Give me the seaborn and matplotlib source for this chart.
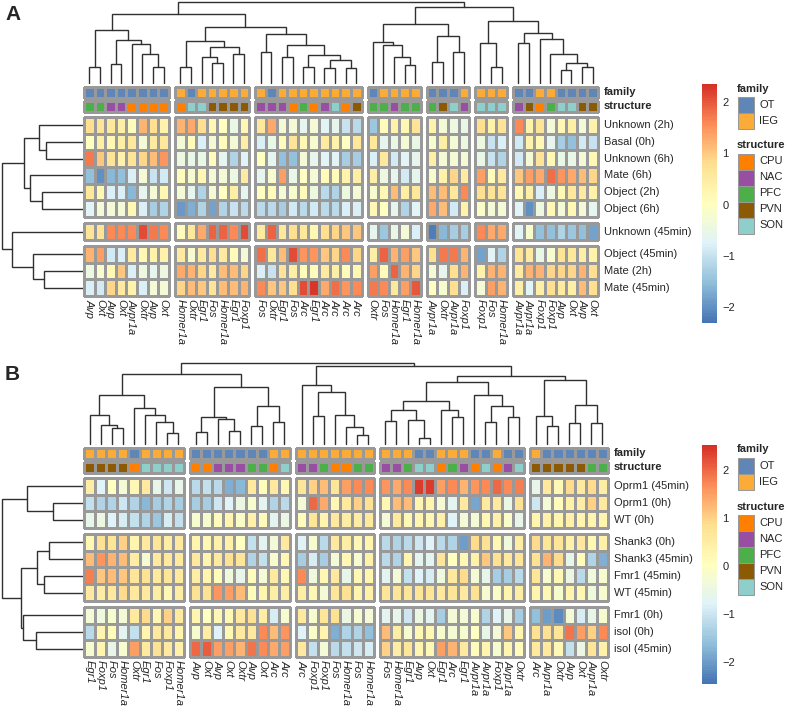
import numpy as np
import pandas as pd
import matplotlib
matplotlib.use("Agg")
import matplotlib.pyplot as plt
from matplotlib.colors import LinearSegmentedColormap, ListedColormap
from matplotlib.patches import Rectangle
import seaborn as sns

W, H = 786, 708

# ---------------- data: panel A ----------------
A_ROWS = ["Unknown (2h)", "Basal (0h)", "Unknown (6h)", "Mate (6h)", "Object (2h)",
          "Object (6h)", "Unknown (45min)", "Object (45min)", "Mate (2h)", "Mate (45min)"]
A_COLS = ["Avp", "Oxt", "Avp", "Oxt", "Avpr1a", "Oxtr", "Avp", "Oxt",
          "Homer1a", "Oxtr", "Egr1", "Fos", "Homer1a", "Egr1", "Foxp1",
          "Fos", "Oxtr", "Egr1", "Fos", "Arc", "Egr1", "Arc", "Arc", "Arc", "Arc",
          "Oxtr", "Fos", "Homer1a", "Egr1", "Homer1a",
          "Avpr1a", "Oxtr", "Avpr1a", "Foxp1",
          "Foxp1", "Fos", "Homer1a",
          "Avpr1a", "Avpr1a", "Foxp1", "Foxp1", "Avp", "Oxt", "Avp", "Oxt"]
A_STRUCT = ["PFC", "PFC", "NAC", "NAC", "CPU", "CPU", "CPU", "CPU",
            "CPU", "SON", "SON", "PVN", "PVN", "PVN", "PVN",
            "NAC", "NAC", "NAC", "CPU", "PFC", "CPU", "NAC", "SON", "CPU", "PVN",
            "PFC", "PFC", "NAC", "PFC", "PFC",
            "PFC", "PVN", "SON", "NAC",
            "SON", "SON", "SON",
            "NAC", "PVN", "CPU", "PFC", "SON", "SON", "PVN", "PVN"]
A_COL_GROUPS = [8, 7, 10, 5, 4, 3, 8]
A_ROW_GROUPS = [6, 1, 3]
A_VALUES = [
    [0.8, 0.7, 0.6, 0.4, 0.1, 1.2, 0.8, 0.3, 1.2, 1.3, 0.8, 0.2, 0.0, -0.5, 0.2,
     0.6, 1.3, -0.3, -0.3, -0.6, -0.3, -0.7, -0.6, -1.0, -1.1, -1.4, 0.1, 0.3, 0.2, 0.7,
     0.3, -0.3, -0.4, -0.5, 0.8, 0.3, 0.7, 1.6, 0.3, 0.7, -0.3, 0.2, 0.4, -0.3, 0.3],
    [0.0, 0.4, 0.2, 0.4, 0.6, -0.3, 0.5, 0.6, -0.3, 0.1, -0.8, -0.3, 0.1, -0.3, 0.4,
     -0.8, -0.5, 0.1, 0.7, 0.2, -0.2, 0.5, 0.3, 0.0, 0.6, 0.6, -0.6, -0.5, -0.3, -0.5,
     -0.2, 0.4, -0.3, -0.4, -0.4, -1.0, -0.8, -0.9, 0.3, 0.2, -0.6, -1.3, -1.5, -0.9, -1.0],
    [1.7, 1.0, 0.7, 0.3, 0.7, 0.9, 1.1, 1.5, -0.4, -0.5, -0.5, 0.1, -0.6, -1.2, -0.7,
     0.0, -0.6, -1.5, -1.5, -0.3, -0.6, -0.7, -0.7, -1.3, -1.3, -0.8, 0.6, -0.9, -0.7, -0.6,
     0.4, -0.3, -0.3, -0.3, -0.5, -1.0, -1.2, -0.9, -0.3, 0.7, 0.2, -0.5, -0.5, -0.3, 0.2],
    [-1.5, -2.0, -1.6, -1.5, -0.8, -0.3, -1.0, -0.9, 0.1, -0.2, 0.2, -0.3, -0.3, -0.4, 0.5,
     -0.6, -0.2, 1.4, -0.5, 0.0, -0.3, 0.1, 0.1, 0.3, 0.4, 0.4, -0.4, -0.6, -0.9, -0.6,
     -0.2, 0.3, 0.9, 0.5, 1.4, 0.1, 0.5, 1.0, 1.4, 1.3, 1.8, 1.5, 1.3, 1.1, 0.9],
    [0.6, 0.2, -0.8, -0.8, -1.6, -0.6, -0.3, 0.2, -0.3, -0.6, -1.2, -0.3, 0.0, 0.4, -0.6,
     0.0, 0.1, -0.3, -0.2, 0.1, -0.4, -1.1, -1.2, -0.4, -0.3, -0.2, 0.2, 1.1, 0.4, 0.6,
     1.1, 1.1, 0.6, 1.6, 0.8, 0.7, 0.7, 0.2, 0.4, -0.8, -0.4, 0.2, 0.6, 0.5, 0.3],
    [-0.7, -0.3, -0.3, -0.3, 0.2, -0.8, -1.3, -1.2, -1.9, -1.7, -1.2, -1.8, -1.2, -1.0, -1.1,
     -1.1, -1.1, -1.3, -0.9, -1.1, -0.9, -1.1, -1.1, -0.8, -0.8, 0.2, 0.0, -0.6, -1.2, -0.7,
     1.3, 1.1, -0.9, 0.3, -0.1, -0.3, -0.3, -0.7, -2.0, -0.4, 0.2, -0.3, 0.2, -0.3, -0.6],
    [0.7, 0.7, 1.6, 1.6, 1.6, 2.1, 1.7, 1.6, 0.1, 0.6, 1.3, 1.9, 1.9, 1.6, 2.1,
     0.5, 1.9, 0.6, 0.8, 0.6, 0.2, 0.8, 0.9, 1.0, 1.0, -0.6, -1.4, -0.5, -0.3, -0.8,
     -2.2, -1.6, -1.3, -1.3, 1.6, 1.3, 1.3, -0.7, -0.2, -1.5, -1.5, -1.2, -1.4, -1.5, -1.8],
    [1.2, 1.4, -0.9, -0.8, 0.5, 0.2, 0.3, 0.3, 0.5, -0.2, 0.5, 0.8, 0.5, 0.1, -0.3,
     1.8, 0.6, 1.1, 2.1, 1.5, 1.5, 1.0, 0.9, 1.6, 0.9, 0.4, 1.9, 1.2, 1.4, 1.0,
     0.8, 1.7, 1.7, 1.2, -1.8, -0.7, -1.2, 0.7, 0.5, -0.5, -0.2, 0.7, 0.6, 0.4, 0.3],
    [-0.4, -0.2, 0.2, 1.0, -0.8, -0.4, -0.6, -0.4, 1.3, 1.2, 0.9, 0.5, 1.1, 1.1, 0.9,
     -0.8, -1.0, 0.7, 0.4, 0.1, 0.1, 0.5, 0.4, 0.1, 0.2, 1.4, 0.1, 1.9, 1.2, 0.9,
     -0.3, -0.6, 0.8, 1.2, 0.3, 1.2, 1.2, 0.5, 1.2, 1.2, 0.9, 0.9, 0.9, 1.2, 0.8],
    [-0.8, -0.9, 0.9, 0.5, 0.3, -0.8, -0.3, -0.3, 0.9, 1.1, 1.0, 0.7, 1.1, 1.1, 1.2,
     1.6, 1.0, 1.0, 0.8, 2.1, 2.3, 1.3, 1.8, 1.5, 1.6, 1.7, 1.6, 0.6, 1.4, 2.0,
     0.0, -0.2, 0.8, -0.8, -0.3, 1.4, 1.2, 0.4, -0.7, 0.4, 0.8, 0.5, 0.4, 1.1, 0.8],
]
A_RANGE = (-2.31, 2.35)
# merge heights (height, left, right), leaves are display positions
A_COL_TREE = (82,
              (69.7,
               (53.7, (16.3, 0, 1), (43.7, (19.7, 2, 3), (39, 4, (29.7, 5, (16.3, 6, 7))))),
               (56.3,
                (42.3, (16.3, 8, 9), (36.3, (26.3, 10, (20.3, 11, 12)), (29.7, 13, 14))),
                (49.7, (31.3, 15, 16),
                 (38.7, (26.3, 17, 18),
                  (28.7, (16.3, 19, 20), (23, (14.7, 21, 22), (15.3, 23, 24))))))),
              (77.3,
               (59.7,
                (42, 25, (38.7, 26, (26.3, 27, (18, 28, 29)))),
                (48, (21.3, 30, 31), (31.3, 32, 33))),
               (62.3,
                (40.3, 34, (16.3, 35, 36)),
                (50.7, (40.7, 37, 38),
                 (44.7, 39, (29.7, 40, (20.7, (13, 41, 42), (16.3, 43, 44))))))))
A_ROW_TREE = (82, (60, (45, 0, (37, 1, 2)), (54, 3, (42, 4, 5))),
              (72, 6, (51, 7, (39, 8, 9))))

# ---------------- data: panel B ----------------
B_ROWS = ["Oprm1 (45min)", "Oprm1 (0h)", "WT (0h)", "Shank3 (0h)", "Shank3 (45min)",
          "Fmr1 (45min)", "WT (45min)", "Fmr1 (0h)", "isol (0h)", "isol (45min)"]
B_COLS = ["Egr1", "Foxp1", "Fos", "Homer1a", "Oxtr", "Egr1", "Fos", "Foxp1", "Homer1a",
          "Avp", "Oxt", "Avp", "Oxt", "Oxtr", "Avp", "Oxt", "Arc", "Arc",
          "Arc", "Foxp1", "Foxp1", "Fos", "Homer1a", "Fos", "Homer1a",
          "Fos", "Homer1a", "Egr1", "Avp", "Oxt", "Egr1", "Arc", "Egr1", "Avpr1a", "Avpr1a",
          "Foxp1", "Avpr1a", "Oxtr",
          "Arc", "Avpr1a", "Oxtr", "Avp", "Oxt", "Avpr1a", "Oxtr"]
B_STRUCT = ["PVN", "PVN", "PVN", "PVN", "CPU", "SON", "SON", "SON", "SON",
            "CPU", "CPU", "NAC", "NAC", "NAC", "PFC", "PFC", "CPU", "SON",
            "NAC", "NAC", "PFC", "CPU", "CPU", "PFC", "PFC",
            "NAC", "NAC", "PFC", "SON", "SON", "CPU", "PFC", "NAC", "CPU", "SON", "CPU", "NAC", "SON",
            "PVN", "PVN", "PVN", "PVN", "PVN", "PFC", "PFC"]
B_COL_GROUPS = [9, 9, 7, 13, 7]
B_ROW_GROUPS = [3, 4, 3]
B_VALUES = [
    [0.5, -0.8, 0.0, -0.3, 0.2, 0.6, -0.6, -1.0, -0.6, -1.2, -1.1, -1.2, -1.8, -1.7, 0.6, 0.1, 0.6, 0.2,
     0.7, 1.0, 1.2, 0.7, 1.5, 1.7, 1.7, 1.6, 1.4, 1.7, 2.4, 2.4, 1.5, 1.7, 1.3, 1.6, 1.7, 2.0, 1.7, 1.8,
     -0.6, 0.6, 0.2, 0.9, 0.6, 0.9, 0.5],
    [-1.1, -1.3, -1.3, -1.0, -1.3, -1.7, -1.4, -1.3, -1.4, -1.4, -1.4, -1.0, -0.8, -0.5, -0.2, -0.7, -1.3, -1.2,
     -0.3, 2.0, 1.4, 0.2, 0.6, 1.0, 0.8, 0.2, 1.2, 1.2, 0.3, 0.3, -0.3, -0.7, 0.6, -1.9, 0.6, 0.6, -0.5, 0.8,
     -1.0, -0.3, 0.1, 0.4, 0.5, 1.0, 0.6],
    [-0.6, -0.5, -0.8, -0.9, -1.1, -1.3, -1.5, -0.9, -1.1, -0.2, -0.2, 0.1, 0.3, -0.1, 0.4, 0.1, -0.7, -0.5,
     0.1, 0.7, 0.3, 0.6, 0.5, 0.5, 0.6, -0.3, 0.6, 0.2, 0.3, 0.2, 0.4, -0.8, -0.3, -0.3, 0.2, 0.4, -0.1, -0.6,
     0.3, 0.4, 0.3, 0.4, 0.3, 0.3, 0.3],
    [0.2, 0.8, 0.7, 1.0, 0.3, 0.6, 0.7, 0.5, 0.6, 0.3, 0.2, 0.4, 0.4, 0.0, -1.1, -0.7, -0.3, 0.6,
     -0.8, -0.2, -1.2, 0.6, 0.5, 0.2, 0.3, -1.2, -1.3, -1.2, -1.0, -0.8, -1.2, -1.3, -2.0, 0.9, 0.8, 0.2, -0.4, 0.5,
     0.9, 0.7, 0.7, 0.4, 0.6, 0.2, 0.4],
    [1.2, 1.6, 1.3, 1.2, 0.5, -0.3, 0.6, 0.6, 0.6, 0.6, 0.3, 0.6, 0.8, 0.7, -1.3, -1.1, -0.2, 0.2,
     -1.4, -0.9, -1.4, -0.3, 0.2, -0.2, 0.4, -1.2, -1.3, 0.3, -0.7, -0.7, 0.7, 0.0, 0.2, 0.4, 1.1, 0.8, 0.6, 0.7,
     0.8, 1.3, 0.9, -0.6, 0.1, -1.3, -1.8],
    [1.8, 1.1, 1.2, 1.1, 0.7, 0.8, 0.6, 0.7, 0.6, 0.5, 0.3, 0.1, -0.4, -0.6, 0.1, -0.3, 0.6, 0.2,
     1.7, -0.4, 0.2, 0.6, -0.6, 0.2, 0.3, -0.7, -0.3, -1.1, -0.8, -0.9, -0.4, 0.6, 0.9, -0.3, -0.6, -1.4, -1.4, -1.2,
     0.7, -0.2, 0.2, -0.5, -1.2, -0.4, -0.2],
    [0.6, 0.5, 0.6, 0.9, 0.6, 0.6, 0.5, 0.2, 0.5, 0.8, 0.8, 1.6, 1.5, 1.2, 0.1, 0.3, 0.5, 0.5,
     0.5, 0.2, -0.3, 0.7, 0.8, 0.3, 0.4, 0.7, 0.7, 0.7, 0.7, 0.7, 0.6, 0.7, 0.6, 0.8, -0.2, -0.1, 0.3, 0.5,
     0.3, 0.2, -0.2, 0.3, 0.2, -0.4, -0.2],
    [-0.3, -0.4, -0.2, -0.3, 0.6, 0.9, 0.2, 1.0, 0.6, 0.3, 0.0, 0.2, 0.2, 0.6, 0.8, 0.5, -0.9, -0.2,
     0.6, -0.2, 0.7, 0.8, -0.5, -0.2, -0.3, -0.7, -0.6, -1.0, -0.5, -0.7, -1.4, -0.3, -0.3, -0.2, -1.3, -0.8, -0.6, -1.4,
     -1.6, -2.0, -2.2, -0.3, -0.9, -0.6, -0.2],
    [-1.2, 0.3, 0.1, -0.7, -1.1, 0.3, 0.6, 0.6, 0.3, -0.2, 0.5, -0.8, 0.2, 0.6, 0.6, 1.7, 1.2, 1.6,
     -0.8, -0.1, 0.3, -1.8, -1.3, -1.3, -1.6, 1.2, 0.5, -0.2, 0.2, 0.2, -0.2, -0.3, -0.2, 0.0, -0.6, -0.3, 1.1, 0.3,
     0.8, 0.8, 0.7, 1.9, 1.5, 1.0, 1.7],
    [-0.2, 0.3, -0.6, -0.2, 1.5, 0.6, 0.8, 0.6, 0.4, 2.0, 2.1, 1.5, 1.5, 1.3, 1.9, 1.7, 1.4, 1.5,
     0.6, -1.1, -0.3, -1.2, -1.1, -1.0, -0.9, 1.0, 0.5, 0.7, 0.3, 0.2, 1.5, 1.3, 0.6, 0.1, 0.3, -0.2, 0.3, 0.1,
     0.6, 0.6, 0.2, -1.1, -0.5, 0.7, 0.4],
]
B_RANGE = (-2.46, 2.52)
B_COL_TREE = (82.6,
              (71,
               (50, (29.3, 0, (19.3, 1, (16, 2, 3))), (36.6, 4, (30, 5, (22.6, 6, (11, 7, 8))))),
               (58.6, (27.6, (12, 9, 10), (25, 11, (13.3, 12, 13))),
                (38.6, (18.6, 14, 15), (22.6, 16, 17)))),
              (79.3,
               (60, 18, (52.6, (28.6, 19, 20), (29.3, 21, (17.6, 22, (9.3, 23, 24))))),
               (69.3,
                (63.3,
                 (44.3, (34.3, (23.3, 25, 26), (24.3, 27, (6, 28, 29))), (34.3, 30, (27.6, 31, 32))),
                 (50, 33, (38.6, (22.6, 34, 35), (27.6, 36, 37)))),
                (65.3, (28.6, 38, (18.3, 39, 40)), (39.3, (21, 41, 42), (21, 43, 44))))))
B_ROW_TREE = (81, (56, 0, (30, 1, 2)),
              (62, (46, (34, 3, 4), (39, 5, 6)), (60, 7, (47, 8, 9))))

# ---------------- annotation definitions ----------------
OT_GENES = {"Avp", "Oxt", "Avpr1a", "Oxtr"}
FAMILIES = ["OT", "IEG"]
FAMILY_COLORS = ["#5F86B7", "#FBAB37"]
STRUCTURES = ["CPU", "NAC", "PFC", "PVN", "SON"]
STRUCT_COLORS = ["#FF7F00", "#984EA3", "#4DAF4A", "#8C5A05", "#8ECFCB"]

GRID = "#999999"
EDGE_LW = 0.75
HEAT_CMAP = LinearSegmentedColormap.from_list(
    "rdylbu_r", ["#4575B4", "#91BFDB", "#E0F3F8", "#FFFFBF", "#FEE090", "#FC8D59", "#D73027"], N=100)

sns.set_style("white")
plt.rcParams["font.family"] = ["Liberation Sans", "DejaVu Sans"]


def split(sizes):
    out, start = [], 0
    for s in sizes:
        out.append(list(range(start, start + s)))
        start += s
    return out


def fig_rect(x, y, w, h):
    return [x / W, 1 - (y + h) / H, w / W, h / H]


def draw_tree(ax, node, pos, to_xy):
    if not isinstance(node, tuple):
        return pos[node], 0.0
    h, left, right = node
    pl, hl = draw_tree(ax, left, pos, to_xy)
    pr, hr = draw_tree(ax, right, pos, to_xy)
    pts = [to_xy(pl, hl), to_xy(pl, h), to_xy(pr, h), to_xy(pr, hr)]
    xs, ys = zip(*pts)
    ax.plot(xs, ys, color="#303030", lw=1.0, solid_joinstyle="miter")
    return (pl + pr) / 2, h


def draw_panel(fig, bg, letter, y0, right, rows, cols, struct, values, col_groups,
               row_groups, vrange, col_tree, row_tree):
    left, gap = 84, 6
    vals = np.array(values)
    nrow, ncol = vals.shape
    col_idx = split(col_groups)
    row_idx = split(row_groups)
    cw = (right - left - gap * (len(col_idx) - 1)) / ncol
    heat_top, heat_bot = y0 + 116, y0 + 295
    rh = (heat_bot - heat_top - gap * (len(row_idx) - 1)) / nrow
    col_x = np.array([left + j * cw + k * gap for k, g in enumerate(col_idx) for j in g])
    row_y = np.array([heat_top + i * rh + k * gap for k, g in enumerate(row_idx) for i in g])

    df = pd.DataFrame(vals, index=rows, columns=cols)
    fam_codes = np.array([0 if c in OT_GENES else 1 for c in cols])
    st_codes = np.array([STRUCTURES.index(s) for s in struct])

    cax = fig.add_axes(fig_rect(702, y0 + 83, 15, 239))
    first = True
    for g in col_idx:
        x = col_x[g[0]]
        wdt = cw * len(g)
        for ann_y, codes, colors in ((y0 + 85.5, fam_codes, FAMILY_COLORS),
                                     (y0 + 99.5, st_codes, STRUCT_COLORS)):
            ax = fig.add_axes(fig_rect(x, ann_y, wdt, 11))
            sns.heatmap(codes[g][None, :], ax=ax, cmap=ListedColormap(colors),
                        vmin=-0.5, vmax=len(colors) - 0.5, cbar=False,
                        linewidths=EDGE_LW, linecolor=GRID, xticklabels=False, yticklabels=False)
            ax.collections[0].set_clip_on(False)
        for r in row_idx:
            ax = fig.add_axes(fig_rect(x, row_y[r[0]], wdt, rh * len(r)))
            sns.heatmap(df.iloc[r, g], ax=ax, cmap=HEAT_CMAP, vmin=vrange[0], vmax=vrange[1],
                        cbar=first, cbar_ax=cax if first else None,
                        linewidths=EDGE_LW, linecolor=GRID, xticklabels=False, yticklabels=False)
            ax.set_xlabel("")
            ax.set_ylabel("")
            ax.collections[0].set_clip_on(False)
            if first:
                cb = ax.collections[0].colorbar
                cb.outline.set_visible(False)
                cb.set_ticks([-2, -1, 0, 1, 2])
                cax.tick_params(length=0, labelsize=8, pad=4)
                first = False

    # dendrograms
    col_root = col_tree[0]
    draw_tree(bg, col_tree, col_x + cw / 2,
              lambda p, h: (p, y0 + 82 - h * 81 / col_root))
    row_root = row_tree[0]
    draw_tree(bg, row_tree, row_y + rh / 2,
              lambda p, h: (83 - h * 81 / row_root, p))

    # labels
    for i, lab in enumerate(rows):
        bg.text(right + 6, row_y[i] + rh / 2, lab, va="center", ha="left", fontsize=8)
    for j, lab in enumerate(cols):
        bg.text(col_x[j] + cw / 2, heat_bot + 3, lab, rotation=-90, ha="center", va="top",
                fontsize=8, style="italic")
    bg.text(right + 6, y0 + 91, "family", va="center", ha="left", fontsize=8, fontweight="bold")
    bg.text(right + 6, y0 + 105, "structure", va="center", ha="left", fontsize=8, fontweight="bold")

    # legend
    ly = y0 + 87.5
    bg.text(737, ly, "family", va="center", ha="left", fontsize=8, fontweight="bold")
    for i, (name, colr) in enumerate(zip(FAMILIES, FAMILY_COLORS)):
        top = ly + 8.5 + 16 * i
        bg.add_patch(Rectangle((738, top), 16, 16, facecolor=colr, edgecolor=GRID, lw=EDGE_LW))
        bg.text(759, top + 8, name, va="center", ha="left", fontsize=8)
    sy = ly + 57
    bg.text(737, sy, "structure", va="center", ha="left", fontsize=8, fontweight="bold")
    for i, (name, colr) in enumerate(zip(STRUCTURES, STRUCT_COLORS)):
        top = sy + 8 + 16 * i
        bg.add_patch(Rectangle((738, top), 16, 16, facecolor=colr, edgecolor=GRID, lw=EDGE_LW))
        bg.text(759, top + 8, name, va="center", ha="left", fontsize=8)

    bg.text(5, y0 + 13, letter, va="center", ha="left", fontsize=15, fontweight="bold")


fig = plt.figure(figsize=(W / 100, H / 100), dpi=100)
bg = fig.add_axes([0, 0, 1, 1])
bg.set_xlim(0, W)
bg.set_ylim(H, 0)
bg.axis("off")

draw_panel(fig, bg, "A", 1, 598, A_ROWS, A_COLS, A_STRUCT, A_VALUES, A_COL_GROUPS,
           A_ROW_GROUPS, A_RANGE, A_COL_TREE, A_ROW_TREE)
draw_panel(fig, bg, "B", 362, 608, B_ROWS, B_COLS, B_STRUCT, B_VALUES, B_COL_GROUPS,
           B_ROW_GROUPS, B_RANGE, B_COL_TREE, B_ROW_TREE)

fig.savefig("out.png", dpi=100, facecolor="white")
